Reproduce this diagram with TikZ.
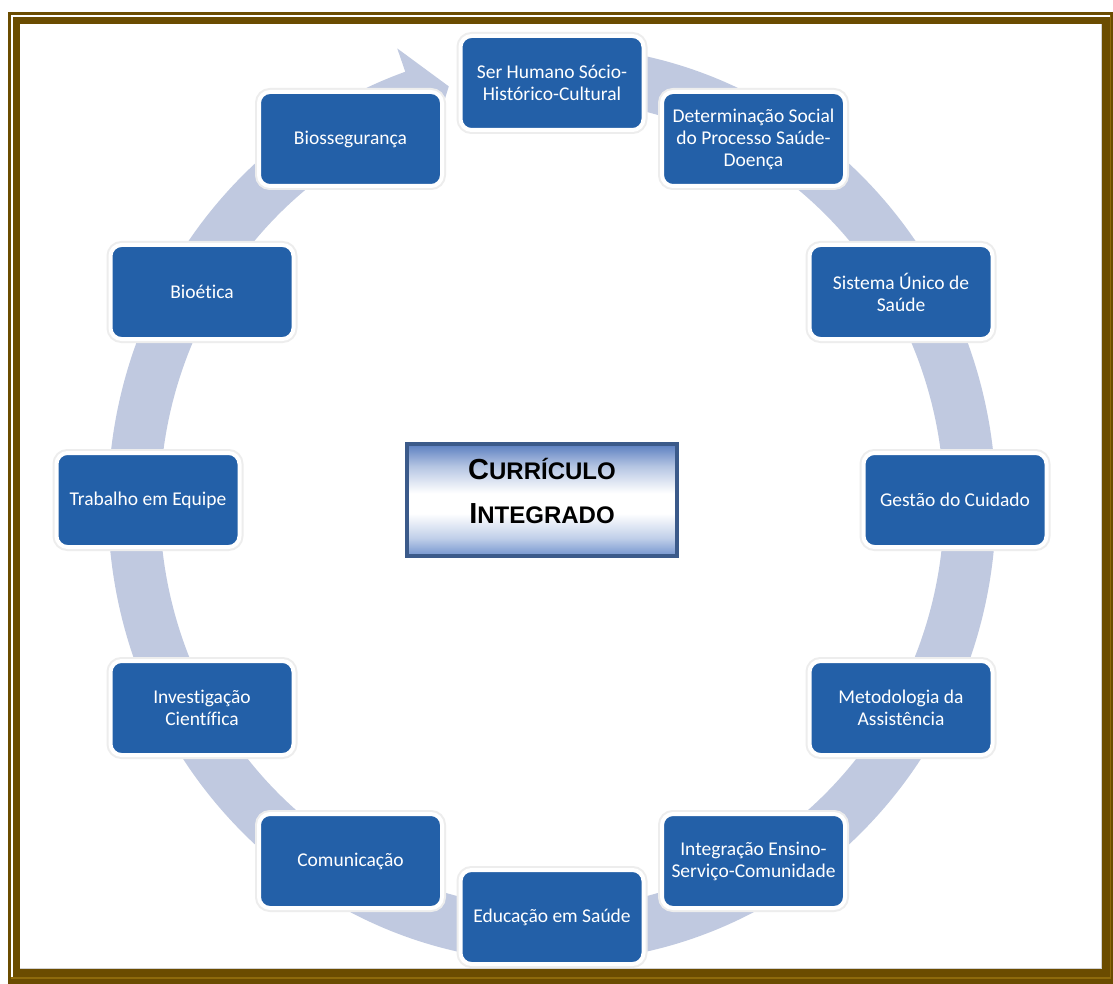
\documentclass[tikz,border=0pt]{standalone}
\usepackage{fontspec}
\setmainfont{Carlito}[Ligatures=NoCommon]
\newfontfamily\titlefont{Liberation Sans}
\usetikzlibrary{calc}
\definecolor{framedark}{HTML}{6B4C00}
\definecolor{framelight}{HTML}{8E6A0C}
\definecolor{boxblue}{HTML}{2360A8}
\definecolor{bandblue}{HTML}{C0C9E0}
\definecolor{coreedge}{HTML}{3B5A8A}
\definecolor{coretop}{HTML}{5A7EC0}
\definecolor{corebot}{HTML}{7394CE}
\pgfdeclareverticalshading{coreshade}{100bp}{color(0bp)=(corebot); color(25bp)=(corebot); color(33bp)=(corebot!45!white); color(44bp)=(white); color(53bp)=(white); color(65bp)=(coretop!45!white); color(75bp)=(coretop); color(100bp)=(coretop)}
\tikzset{
  topic/.style={rectangle, rounded corners=11pt, fill=boxblue, draw=white, line width=4pt,
    minimum width=183pt, minimum height=94pt, text=white, align=center,
    font=\fontsize{19.5}{22}\selectfont, inner sep=0pt,
    preaction={draw=black!7, line width=8pt}},
  core/.style={rectangle, draw=coreedge, line width=4.5pt, minimum width=270pt, minimum height=112pt,
    shading=coreshade, inner sep=0pt},
  band/.style={fill=bandblue}
}
\begin{document}
\begin{tikzpicture}[x=1pt,y=-1pt]
\useasboundingbox (0,0) rectangle (1113,984);
% frame
\fill[framedark] (8,12.5) rectangle (1113,984);
\fill[white] (10.5,15) rectangle (1111,979);
\fill[framelight] (10.5,977) rectangle (1111,979);
\fill[framelight] (1109.5,15) rectangle (1111,979);
\fill[framedark] (13,17) rectangle (1109.5,977);
\fill[white] (20,24) rectangle (1102,969);
\draw[black!18, line width=0.8pt] (20,968.6) -- (1101.6,968.6) -- (1101.6,24);
% circular arrow band
\fill[band] (552,46) arc[start angle=-90, end angle=250.7, x radius=444, y radius=458]
  -- ({552+468.2*cos(250.7)},{504+482.7*sin(250.7)})
  -- ({552+418*cos(255.7)},{504+431*sin(255.7)})
  -- ({552+367.8*cos(250.7)},{504+379.3*sin(250.7)})
  -- ({552+392*cos(250.7)},{504+404*sin(250.7)})
  arc[start angle=250.7, end angle=-90, x radius=392, y radius=404] -- cycle;
% topics
\node[topic] (ser) at (552,83) {Ser Humano Sócio-\\Histórico-Cultural};
\node[topic] (det) at (753.5,139) {Determinação Social\\do Processo Saúde-\\Doença};
\node[topic] (sus) at (901,292) {Sistema Único de\\Saúde};
\node[topic] (ges) at (955,500) {Gestão do Cuidado};
\node[topic] (met) at (901,708) {Metodologia da\\Assistência};
\node[topic] (int) at (753.5,861) {Integração Ensino-\\Serviço-Comunidade};
\node[topic] (edu) at (552,917) {Educação em Saúde};
\node[topic] (com) at (350.5,861) {Comunicação};
\node[topic] (inv) at (202,708) {Investigação\\Científica};
\node[topic] (tra) at (148,500) {Trabalho em Equipe};
\node[topic] (bioe) at (202,292) {Bioética};
\node[topic] (bios) at (350.5,139) {Biossegurança};
% centre
\node[core] (centre) at (542,500) {};
\node[font=\titlefont\bfseries\fontsize{29}{44}\selectfont, align=center, inner sep=0pt] (title) at (542,491)
  {C{\fontsize{24}{44}\selectfont URRÍCULO}\\I{\fontsize{24}{44}\selectfont NTEGRADO}};
\end{tikzpicture}
\end{document}
